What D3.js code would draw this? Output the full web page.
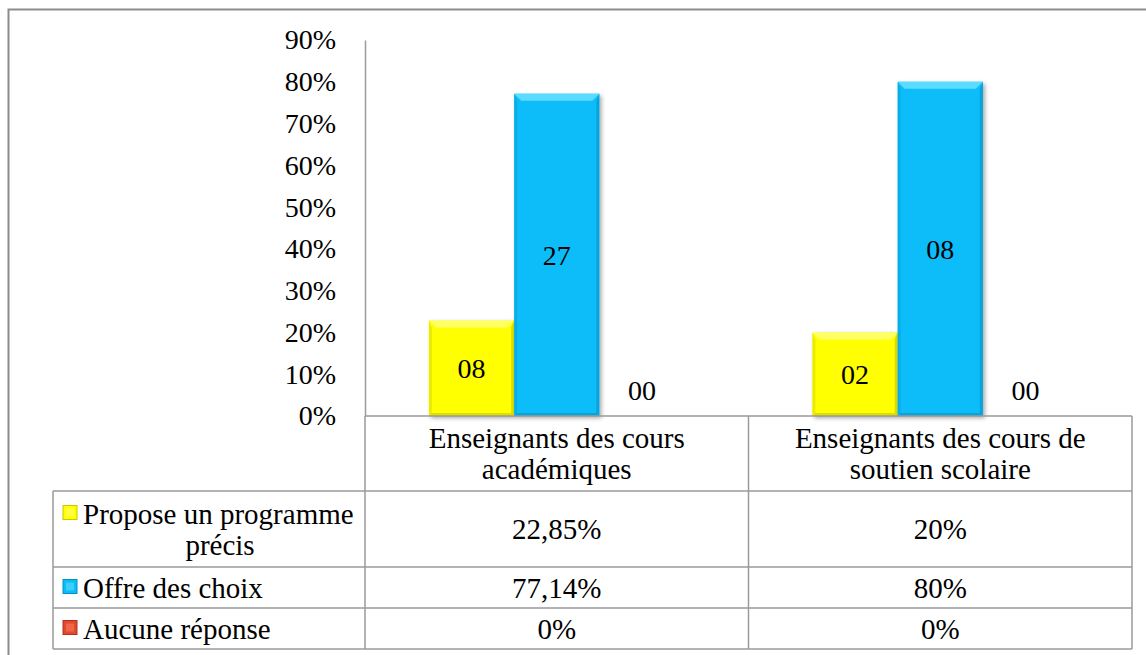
<!DOCTYPE html>
<html>
<head>
<meta charset="utf-8">
<script src="https://cdn.jsdelivr.net/npm/d3@7"></script>
<style>
  body { margin: 0; background: #fff; }
</style>
</head>
<body>
<svg id="chart"></svg>
<script>
// data
const categories = ["Enseignants des cours académiques", "Enseignants des cours de soutien scolaire"];
const categoryLines = [["Enseignants des cours", "académiques"], ["Enseignants des cours de", "soutien scolaire"]];
const series = ["Propose un programme précis", "Offre des choix", "Aucune réponse"];
const seriesLines = [["Propose un programme", "précis"], ["Offre des choix"], ["Aucune réponse"]];
const proposeValues = [0.2285, 0.20];
const offreValues = [0.7714, 0.80];
const aucuneValues = [0, 0];
const proposeCounts = ["08", "02"];
const offreCounts = ["27", "08"];
const aucuneCounts = ["00", "00"];
const proposeTable = ["22,85%", "20%"];
const offreTable = ["77,14%", "80%"];
const aucuneTable = ["0%", "0%"];
const yTicks = [0, 0.1, 0.2, 0.3, 0.4, 0.5, 0.6, 0.7, 0.8, 0.9];

const allValues = [proposeValues, offreValues, aucuneValues];
const allCounts = [proposeCounts, offreCounts, aucuneCounts];
const allTable = [proposeTable, offreTable, aucuneTable];
const colors = ["#ffff00", "#08bdf9", "#e4472b"];
const lightColors = ["#ffff80", "#6fe2ff", "#f7876b"];
const darkColors = ["#c8c800", "#0592c2", "#b0321c"];

const width = 1146, height = 655;
const fontSize = 28;
const tableFont = 29;
const plotLeft = 365, plotRight = 1132, plotTop = 40, plotBottom = 416;
const tableLeft = 53;
const rowEdges = [416, 491, 567, 608, 649];
const lineCol = "#9a9a9a";

// every text gets the font inline, one family only
const styleText = (sel, size = fontSize) => sel
    .attr("font-family", "Liberation Serif")
    .attr("font-size", size)
    .style("font-family", '"Liberation Serif"')
    .style("font-size", size + "px")
    .attr("fill", "#000");

const svg = d3.select("#chart")
    .attr("width", width)
    .attr("height", height);

const defs = svg.append("defs");
defs.append("filter")
    .attr("id", "shadow")
    .attr("x", "-20%").attr("y", "-20%").attr("width", "140%").attr("height", "140%")
    .append("feDropShadow")
    .attr("dx", 2).attr("dy", 2).attr("stdDeviation", 2)
    .attr("flood-color", "#000").attr("flood-opacity", 0.35);

// outer frame
svg.append("rect")
    .attr("x", 8.5).attr("y", 9.5)
    .attr("width", width + 20).attr("height", height + 20)
    .attr("fill", "none")
    .attr("stroke", "#8c8c8c")
    .attr("stroke-width", 2);

const y = d3.scaleLinear().domain([0, 0.9]).range([plotBottom, plotTop]);
const x0 = d3.scaleBand().domain(categories).range([plotLeft, plotRight]);
const x1 = d3.scaleBand().domain(series)
    .range([x0.bandwidth() / 6, x0.bandwidth() * 5 / 6]);

// y axis
const yAxis = d3.axisLeft(y)
    .tickValues(yTicks)
    .tickSize(0)
    .tickPadding(29)
    .tickFormat(d3.format(".0%"));

const gy = svg.append("g")
    .attr("transform", `translate(${plotLeft},0)`)
    .call(yAxis)
    .attr("font-family", "Liberation Serif")
    .attr("font-size", fontSize);
gy.select(".domain").attr("stroke", lineCol).attr("stroke-width", 1.5);
gy.selectAll("text").call(styleText);

// bars with bevel
const groups = svg.append("g").selectAll("g")
    .data(categories)
    .join("g")
    .attr("transform", d => `translate(${x0(d)},0)`);

series.forEach((s, si) => {
    groups.each(function(c, ci) {
        const v = allValues[si][ci];
        const bx = x1(s), bw = x1.bandwidth();
        const by = y(v), bh = y(0) - y(v);
        if (bh <= 0) return;
        const g = d3.select(this).append("g");
        g.append("rect")
            .attr("x", bx).attr("y", by)
            .attr("width", bw).attr("height", bh)
            .attr("fill", colors[si])
            .attr("filter", "url(#shadow)");
        const t = Math.min(7, bh / 2), sd = 3;
        // top bevel
        g.append("polygon")
            .attr("points", [[bx, by], [bx + bw, by], [bx + bw - t, by + t], [bx + t, by + t]].join(" "))
            .attr("fill", lightColors[si]).attr("opacity", 0.8);
        // right side
        g.append("polygon")
            .attr("points", [[bx + bw, by], [bx + bw, by + bh], [bx + bw - sd, by + bh - sd], [bx + bw - sd, by + t]].join(" "))
            .attr("fill", darkColors[si]).attr("opacity", 0.6);
        // left side
        g.append("polygon")
            .attr("points", [[bx, by], [bx + sd, by + t], [bx + sd, by + bh - sd], [bx, by + bh]].join(" "))
            .attr("fill", darkColors[si]).attr("opacity", 0.35);
        // bottom
        g.append("polygon")
            .attr("points", [[bx, by + bh], [bx + bw, by + bh], [bx + bw - sd, by + bh - sd], [bx + sd, by + bh - sd]].join(" "))
            .attr("fill", darkColors[si]).attr("opacity", 0.6);
    });
});

// data labels
series.forEach((s, si) => {
    groups.append("text")
        .attr("x", x1(s) + x1.bandwidth() / 2)
        .attr("y", (c, ci) => {
            const v = allValues[si][ci];
            const h = y(0) - y(v);
            return h > 40 ? (y(v) + y(0)) / 2 : y(0) - 26;
        })
        .attr("dy", "0.35em")
        .attr("text-anchor", "middle")
        .call(styleText)
        .text((c, ci) => allCounts[si][ci]);
});

// data table
const grid = svg.append("g").attr("stroke", lineCol).attr("stroke-width", 1.5);
grid.append("line").attr("x1", plotLeft).attr("x2", plotRight).attr("y1", rowEdges[0]).attr("y2", rowEdges[0]);
rowEdges.slice(1).forEach(r => {
    grid.append("line").attr("x1", tableLeft).attr("x2", plotRight).attr("y1", r).attr("y2", r);
});
grid.append("line").attr("x1", tableLeft).attr("x2", tableLeft).attr("y1", rowEdges[1]).attr("y2", rowEdges[4]);
grid.append("line").attr("x1", plotLeft).attr("x2", plotLeft).attr("y1", rowEdges[0]).attr("y2", rowEdges[4]);
categories.forEach(c => {
    const xr = x0(c) + x0.bandwidth();
    grid.append("line").attr("x1", xr).attr("x2", xr).attr("y1", rowEdges[0]).attr("y2", rowEdges[4]);
});

// category header
const lineH = 31;
categories.forEach((c, ci) => {
    const lines = categoryLines[ci];
    const cy = (rowEdges[0] + rowEdges[1]) / 2 - (lines.length - 1) * lineH / 2;
    lines.forEach((ln, li) => {
        svg.append("text")
            .attr("x", x0(c) + x0.bandwidth() / 2)
            .attr("y", cy + li * lineH)
            .attr("dy", "0.35em")
            .attr("text-anchor", "middle")
            .call(styleText, tableFont)
            .text(ln);
    });
});

// legend rows
series.forEach((s, si) => {
    const top = rowEdges[si + 1], bottom = rowEdges[si + 2];
    const lines = seriesLines[si];
    const cy = (top + bottom) / 2 - (lines.length - 1) * lineH / 2;
    const keyX = 63, keyS = 14;
    const kg = svg.append("g");
    kg.append("rect")
        .attr("x", keyX).attr("y", cy - keyS / 2 - 1)
        .attr("width", keyS).attr("height", keyS)
        .attr("fill", colors[si]);
    kg.append("rect")
        .attr("x", keyX + 3).attr("y", cy - keyS / 2 + 2)
        .attr("width", keyS - 6).attr("height", keyS - 6)
        .attr("fill", lightColors[si]).attr("opacity", 0.5);
    kg.append("rect")
        .attr("x", keyX).attr("y", cy - keyS / 2 - 1)
        .attr("width", keyS).attr("height", keyS)
        .attr("fill", "none").attr("stroke", darkColors[si]).attr("stroke-width", 1);

    svg.append("text")
        .attr("x", 83).attr("y", cy).attr("dy", "0.35em")
        .call(styleText, tableFont)
        .text(lines[0]);
    if (lines.length > 1) {
        svg.append("text")
            .attr("x", 220).attr("y", cy + lineH).attr("dy", "0.35em")
            .attr("text-anchor", "middle")
            .call(styleText, tableFont)
            .text(lines[1]);
    }

    categories.forEach((c, ci) => {
        svg.append("text")
            .attr("x", x0(c) + x0.bandwidth() / 2)
            .attr("y", (top + bottom) / 2)
            .attr("dy", "0.35em")
            .attr("text-anchor", "middle")
            .call(styleText, tableFont)
            .text(allTable[si][ci]);
    });
});
</script>
</body>
</html>
